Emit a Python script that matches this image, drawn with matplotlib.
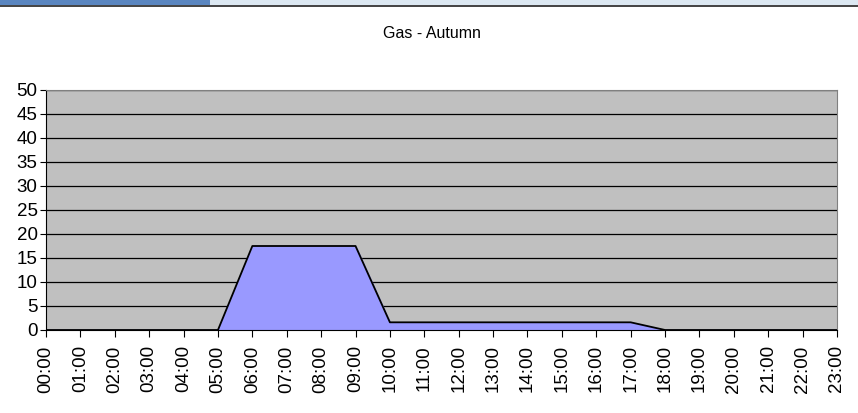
import matplotlib
matplotlib.use("Agg")
import matplotlib.pyplot as plt
import numpy as np

hours = [f"{h:02d}:00" for h in range(24)]
gas = [0, 0, 0, 0, 0, 0, 17.5, 17.5, 17.5, 17.5, 1.6, 1.6, 1.6, 1.6, 1.6, 1.6, 1.6, 1.6, 0, 0, 0, 0, 0, 0]
title = "Gas - Autumn"
yticks = list(range(0, 55, 5))

plt.rcParams['font.family'] = ['Liberation Sans', 'DejaVu Sans']
fig = plt.figure(figsize=(8.58, 4.13), dpi=100)
W, H = 858, 413
ax = fig.add_axes([46 / W, 1 - 330 / H, (837 - 46) / W, (330 - 90) / H])

# top banner decoration
fig.patches.append(plt.Rectangle((0, 1 - 5 / H), 1, 5 / H, transform=fig.transFigure,
                                 facecolor='#dce8f2', edgecolor='none'))
fig.patches.append(plt.Rectangle((0, 1 - 5 / H), 210 / W, 5 / H, transform=fig.transFigure,
                                 facecolor='#5a86c0', edgecolor='none'))
fig.lines.append(plt.Line2D([0, 1], [1 - 5.5 / H, 1 - 5.5 / H], transform=fig.transFigure,
                            color='#222222', lw=1.2))

x = np.arange(len(hours))
ax.set_facecolor('#C0C0C0')
ax.fill_between(x, gas, 0, color='#9999FF', zorder=2)
ax.plot(x, gas, color='black', lw=1.3, zorder=3)
ax.set_xlim(0, 23)
ax.set_ylim(0, 50)
ax.set_yticks(yticks)
ax.set_xticks(x)
ax.set_xticklabels(hours, rotation=90, fontsize=13.5)
ax.tick_params(axis='y', labelsize=13.5, length=4, direction='out', pad=2)
ax.tick_params(axis='x', length=5, direction='out', pad=6)
for yv in yticks[1:]:
    ax.axhline(yv, color='black', lw=0.9, zorder=1)
ax.spines['left'].set_color('black')
ax.spines['bottom'].set_color('black')
ax.spines['bottom'].set_zorder(4)
ax.spines['top'].set_color('#808080')
ax.spines['right'].set_color('#808080')

fig.text(432 / W, 1 - 33 / H, title, ha='center', va='center', fontsize=11.5)

fig.savefig("out.png", dpi=100)
